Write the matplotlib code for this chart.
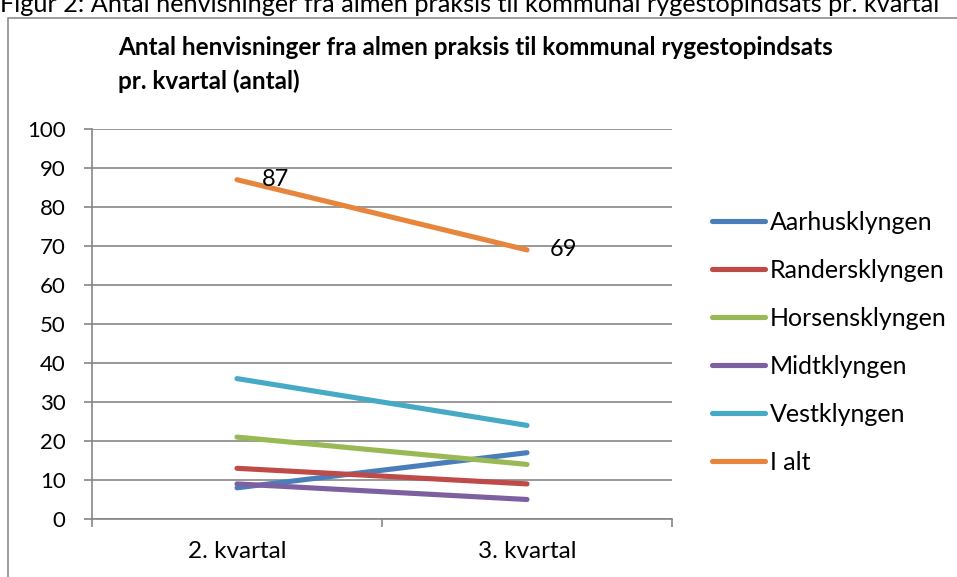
import matplotlib
matplotlib.use("Agg")
import matplotlib.pyplot as plt
from matplotlib.patches import Rectangle

plt.rcParams['font.family'] = ['Lato', 'DejaVu Sans']

categories = ["2. kvartal", "3. kvartal"]
series_names = ["Aarhusklyngen", "Randersklyngen", "Horsensklyngen", "Midtklyngen", "Vestklyngen", "I alt"]
aarhus = [8, 17]
randers = [13, 9]
horsens = [21, 14]
midt = [9, 5]
vest = [36, 24]
i_alt = [87, 69]
series_values = [aarhus, randers, horsens, midt, vest, i_alt]
colors = ["#4A7EBB", "#BE4B48", "#98B954", "#7D60A0", "#46AAC5", "#E8853C"]
yticks = list(range(0, 101, 10))

W, H = 957, 577
fig = plt.figure(figsize=(W/100, H/100), dpi=100)

# outer frame and caption (cut at the top edge, as in the reference)
fig.patches.append(Rectangle((8/W, -0.1), 1.2, 1 - 18/H + 0.1, transform=fig.transFigure,
                             fill=False, edgecolor="#8C8C8C", lw=1.2))
fig.text(0/W, 1 - 12/H, "Figur 2: Antal henvisninger fra almen praksis til kommunal rygestopindsats pr. kvartal",
         fontsize=18.2, va='baseline', ha='left', color='black')

ax = fig.add_axes([92/W, 1 - 519/H, (672-92)/W, (519-129)/H])
x = [0.5, 1.5]
for name, vals, c in zip(series_names, series_values, colors):
    ax.plot(x, vals, color=c, lw=3.7, solid_capstyle='round', label=name)

ax.text(x[0] + 0.085, i_alt[0], str(i_alt[0]), fontsize=17, ha='left', va='center')
ax.text(x[1] + 0.08, i_alt[1], str(i_alt[1]), fontsize=17, ha='left', va='center')

ax.set_xlim(0, 2)
ax.set_ylim(0, 100)
ax.set_yticks(yticks)
ax.set_xticks([0, 1, 2])
ax.set_xticklabels([])
ax.set_xticks(x, minor=True)
ax.set_xticklabels(categories, minor=True, fontsize=17.5)
ax.tick_params(axis='x', which='minor', length=0, pad=16)
ax.tick_params(axis='x', which='major', length=6, width=1.2, color="#868686", direction='out')
ax.tick_params(axis='y', length=6, width=1.2, color="#868686", direction='out', labelsize=16, pad=13)
ax.grid(axis='y', color="#868686", lw=1.2)
ax.set_axisbelow(True)
for s in ['top', 'right']:
    ax.spines[s].set_visible(False)
for s in ['left', 'bottom']:
    ax.spines[s].set_color("#868686")
    ax.spines[s].set_linewidth(1.2)

fig.text(118/W, 1 - 55/H, "Antal henvisninger fra almen praksis til kommunal rygestopindsats",
         fontsize=17.5, fontweight='bold', ha='left', va='baseline')
fig.text(118/W, 1 - 89/H, "pr. kvartal (antal)",
         fontsize=17.5, fontweight='bold', ha='left', va='baseline')

leg = fig.legend(loc='upper left', bbox_to_anchor=(712/W, 1 - 211/H), frameon=False,
                 fontsize=18, handlelength=2.1, handletextpad=0.2, labelspacing=1.0,
                 borderaxespad=0, borderpad=0)

fig.savefig("out.png", dpi=100)
